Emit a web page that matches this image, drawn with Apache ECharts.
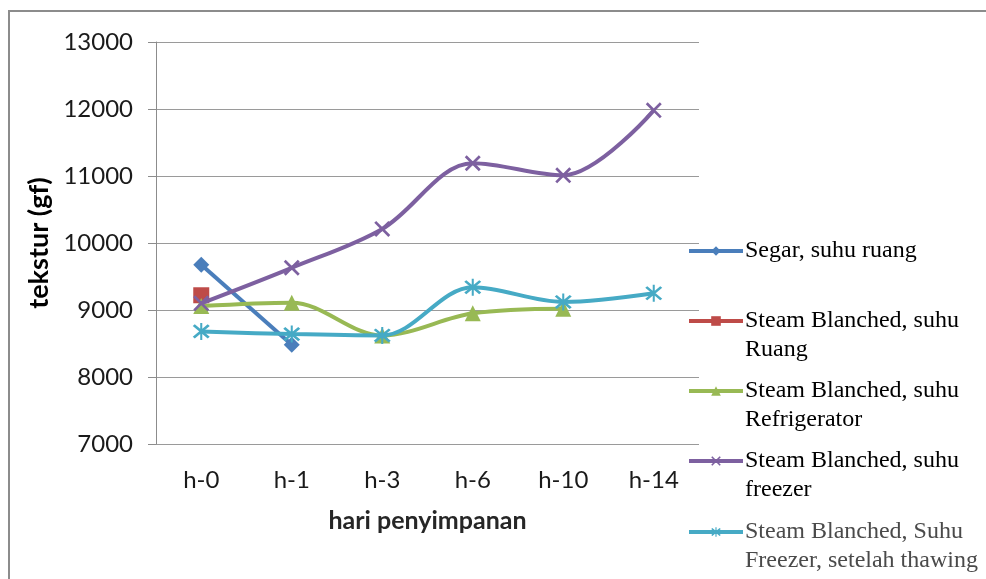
<!DOCTYPE html>
<html>
<head>
<meta charset="utf-8">
<script src="https://cdn.jsdelivr.net/npm/echarts@6/dist/echarts.min.js"></script>
<style>
  html, body { margin: 0; padding: 0; background: #fff; }
  #chart { width: 986px; height: 579px; }
</style>
</head>
<body>
<div id="chart"></div>
<script>
// Storage days (x axis categories)
var days = ['h-0', 'h-1', 'h-3', 'h-6', 'h-10', 'h-14'];

// Texture (gf) per treatment; null where no measurement was taken
var segarSuhuRuang      = [9675, 8480, null, null, null, null];
var steamSuhuRuang      = [9220, null, null, null, null, null];
var steamRefrigerator   = [9060, 9110, 8620, 8950, 9020, null];
var steamFreezer        = [9100, 9630, 10210, 11190, 11010, 11980];
var steamFreezerThawing = [8680, 8640, 8620, 9340, 9120, 9250];

var yTicks = { min: 7000, max: 13000, step: 1000 };

var names = [
  'Segar, suhu ruang',
  'Steam Blanched, suhu Ruang',
  'Steam Blanched, suhu Refrigerator',
  'Steam Blanched, suhu freezer',
  'Steam Blanched, Suhu Freezer, setelah thawing'
];
// Legend labels as wrapped in the chart
var legendLines = [
  ['Segar, suhu ruang'],
  ['Steam Blanched, suhu', 'Ruang'],
  ['Steam Blanched, suhu', 'Refrigerator'],
  ['Steam Blanched, suhu', 'freezer'],
  ['Steam Blanched, Suhu', 'Freezer, setelah thawing']
];

var colors = ['#4a7ebb', '#be4b48', '#98b954', '#7d60a0', '#46aac5'];

var crossPath = 'path://M0,1.2 L1.2,0 L10,8.8 L8.8,10 Z M8.8,0 L10,1.2 L1.2,10 L0,8.8 Z';
var starPath = 'path://M0,1.2 L1.2,0 L10,8.8 L8.8,10 Z M8.8,0 L10,1.2 L1.2,10 L0,8.8 Z M4.4,-1 L5.6,-1 L5.6,11 L4.4,11 Z';
var symbols = ['diamond', 'rect', 'triangle', crossPath, starPath];
var symbolSizes = [16, 16, 16, 16, 17];

var seriesData = [segarSuhuRuang, steamSuhuRuang, steamRefrigerator, steamFreezer, steamFreezerThawing];

var series = seriesData.map(function (d, i) {
  return {
    name: names[i],
    type: 'line',
    data: d,
    smooth: i === 0 ? false : 0.34,
    symbol: symbols[i],
    symbolSize: symbolSizes[i],
    showAllSymbol: true,
    connectNulls: false,
    lineStyle: { color: colors[i], width: 4 },
    itemStyle: { color: colors[i], borderWidth: 0 },
    emphasis: { disabled: true },
    z: 2 + i
  };
});

// Legend: one block per entry, icon aligned with the first text line
var iconCenters = [251, 321, 391, 461, 532];
var lineH = 29;
var legends = names.map(function (n, i) {
  var lines = legendLines[i];
  var text = lines.length > 1 ? '\n' + lines.join('\n') : lines[0];
  var boxH = lines.length > 1 ? lineH * 3 : lineH;
  return {
    data: [n],
    left: 687,
    top: iconCenters[i] - boxH / 2,
    padding: 0,
    itemWidth: 54,
    itemHeight: 12,
    itemGap: 0,
    selectedMode: false,
    lineStyle: { width: 4 },
    formatter: function () { return text; },
    textStyle: {
      fontFamily: 'Liberation Serif',
      fontSize: 24,
      lineHeight: lineH,
      padding: [0, 0, 0, -3],
      color: i === 4 ? '#4a4a4a' : '#000'
    }
  };
});

var chart = echarts.init(document.getElementById('chart'), null, { renderer: 'canvas' });
chart.setOption({
  animation: false,
  backgroundColor: '#fff',
  grid: { left: 156, right: 287, top: 42, bottom: 135, containLabel: false },
  graphic: [{
    type: 'rect',
    shape: { x: 9, y: 11, width: 1000, height: 600 },
    style: { fill: 'none', stroke: '#8c8c8c', lineWidth: 2 },
    silent: true
  }],
  legend: legends,
  xAxis: {
    type: 'category',
    data: days,
    boundaryGap: true,
    name: 'hari penyimpanan',
    nameLocation: 'middle',
    nameGap: 64,
    nameTextStyle: { fontFamily: 'Lato', fontWeight: 'bold', fontSize: 25, color: '#262626' },
    axisLine: { show: false },
    axisTick: { show: false },
    axisLabel: { fontFamily: 'Lato', fontSize: 24, color: '#1a1a1a', margin: 24 }
  },
  yAxis: {
    type: 'value',
    min: yTicks.min,
    max: yTicks.max,
    interval: yTicks.step,
    name: 'tekstur (gf)',
    nameLocation: 'middle',
    nameGap: 103,
    nameTextStyle: { fontFamily: 'Lato', fontWeight: 'bold', fontSize: 27, color: '#000' },
    axisLine: { show: true, lineStyle: { color: '#8c8c8c', width: 1 } },
    axisTick: { show: true, inside: false, length: 8, lineStyle: { color: '#8c8c8c' } },
    axisLabel: {
      fontFamily: 'Lato', fontSize: 24, color: '#1a1a1a', margin: 23,
      formatter: function (v) { return String(v); }
    },
    splitLine: { show: true, lineStyle: { color: '#9a9a9a', width: 1.2 } }
  },
  series: series
});
</script>
</body>
</html>
